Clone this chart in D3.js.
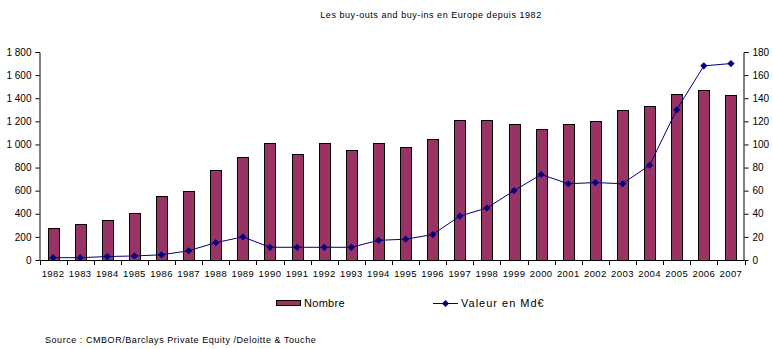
<!DOCTYPE html>
<html><head><meta charset="utf-8">
<script src="https://cdn.jsdelivr.net/npm/d3@7"></script>
<style>body{margin:0;background:#fff}svg{display:block}text{font-family:"Liberation Sans",Arial,sans-serif;fill:#000}</style>
</head><body>
<script>
const years = ["1982","1983","1984","1985","1986","1987","1988","1989","1990","1991","1992","1993","1994","1995","1996","1997","1998","1999","2000","2001","2002","2003","2004","2005","2006","2007"];
const nombre = [275,310,345,405,550,600,775,895,1015,915,1015,955,1015,975,1045,1215,1215,1175,1130,1175,1205,1295,1330,1435,1470,1425];
const valeur = [2,2,3,3.5,4.5,8,15,20,11,11,11,11,17,18,22,38,45,60,74,66,67,66,82,130,168,170];
const leftTicks = [0,200,400,600,800,1000,1200,1400,1600,1800];
const rightTicks = [0,20,40,60,80,100,120,140,160,180];

const W=773,H=349;
const svg=d3.select("body").append("svg").attr("width",W).attr("height",H);
const x0=39.5,x1=744.5,yTop=52,yBot=260;
const x=d3.scaleBand().domain(years).range([x0,x1]);
const yL=d3.scaleLinear().domain([0,1800]).range([yBot,yTop]);
const yR=d3.scaleLinear().domain([0,180]).range([yBot,yTop]);
const fmt=d=>d>=1000?String(d).replace(/(\d)(\d{3})$/,"$1 $2"):String(d);

svg.append("text").attr("x",431).attr("y",18).attr("text-anchor","middle").attr("font-size",9).attr("letter-spacing",0.55).text("Les buy-outs and buy-ins en Europe depuis 1982");

// bars
const bw=11;
svg.selectAll("rect.bar").data(nombre).join("rect")
 .attr("x",(d,i)=>Math.round(x(years[i])+x.bandwidth()/2-bw/2)+0.5)
 .attr("y",d=>Math.round(yL(d))+0.5).attr("width",bw)
 .attr("height",d=>yBot-Math.round(yL(d)))
 .attr("fill","#993366").attr("stroke","#000").attr("stroke-width",1);

// axes
const gL=svg.append("g").attr("transform",`translate(${x0},0)`)
 .call(d3.axisLeft(yL).tickValues(leftTicks).tickFormat(fmt).tickSize(4).tickPadding(4));
const gR=svg.append("g").attr("transform",`translate(${x1},0)`)
 .call(d3.axisRight(yR).tickValues(rightTicks).tickSize(4).tickPadding(4));
[gL,gR].forEach(g=>{g.selectAll("text").attr("font-size",10).attr("font-family","Liberation Sans, Arial, sans-serif");g.select(".domain").attr("stroke","#000");g.selectAll("line").attr("stroke","#000");});
gL.select(".domain").attr("d",`M-4,${yTop+0.5}H0.5V${yBot+0.5}`);
gR.select(".domain").attr("d",`M4,${yTop+0.5}H-0.5V${yBot+0.5}`);

// x axis
const gx=svg.append("g");
gx.append("line").attr("x1",x0).attr("x2",x1).attr("y1",yBot+0.5).attr("y2",yBot+0.5).attr("stroke","#000");
const bounds=years.map(y=>x(y)).concat([x1]);
gx.selectAll("line.t").data(bounds).join("line").attr("class","t")
 .attr("x1",d=>Math.round(d)+0.5).attr("x2",d=>Math.round(d)+0.5).attr("y1",yBot).attr("y2",yBot+5).attr("stroke","#000");
gx.selectAll("text").data(years).join("text")
 .attr("x",d=>x(d)+x.bandwidth()/2).attr("y",yBot+17).attr("text-anchor","middle").attr("font-size",9.5).attr("letter-spacing",0.4).text(d=>d);

// line
const line=d3.line().x((d,i)=>x(years[i])+x.bandwidth()/2).y(d=>yR(d));
svg.append("path").datum(valeur).attr("d",line).attr("fill","none").attr("stroke","#000080").attr("stroke-width",1);
const diamond=d3.symbol().type(d3.symbolSquare).size(26);
svg.selectAll("path.m").data(valeur).join("path").attr("class","m")
 .attr("transform",(d,i)=>`translate(${x(years[i])+x.bandwidth()/2},${yR(d)}) rotate(45)`)
 .attr("d",diamond).attr("fill","#000080");

// legend
const lg=svg.append("g");
lg.append("rect").attr("x",276.5).attr("y",300.5).attr("width",24).attr("height",5).attr("fill","#993366").attr("stroke","#000");
lg.append("text").attr("x",304).attr("y",307).attr("font-size",11).attr("letter-spacing",0.3).text("Nombre");
lg.append("line").attr("x1",433).attr("x2",458).attr("y1",303.5).attr("y2",303.5).attr("stroke","#000080");
lg.append("path").attr("transform","translate(445.5,303.5) rotate(45)").attr("d",diamond).attr("fill","#000080");
lg.append("text").attr("x",461).attr("y",307).attr("font-size",11).attr("letter-spacing",1).text("Valeur en Md€");

svg.append("text").attr("x",45).attr("y",343).attr("font-size",9).attr("letter-spacing",0.55).text("Source : CMBOR/Barclays Private Equity /Deloitte & Touche");
</script>
</body></html>
